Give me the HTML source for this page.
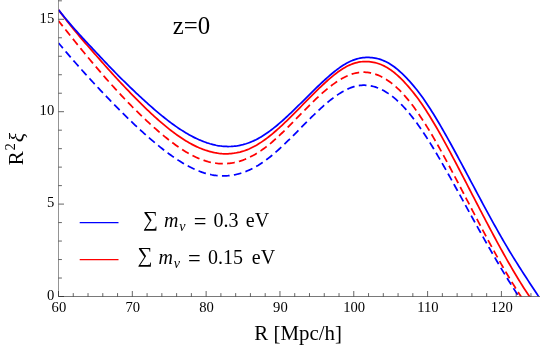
<!DOCTYPE html>
<html><head><meta charset="utf-8"><title>plot</title>
<style>
html,body{margin:0;padding:0;background:#fff;}
body{width:540px;height:351px;overflow:hidden;font-family:"Liberation Serif",serif;}
svg{display:block;will-change:transform;}
text{font-family:"Liberation Serif",serif;fill:#000;}
.it{font-style:italic;}
</style></head><body>
<svg width="540" height="351" viewBox="0 0 540 351">
<rect width="540" height="351" fill="#fff"/>

<defs><clipPath id="c"><rect x="58.5" y="0" width="481.5" height="296.5"/></clipPath></defs>
<g clip-path="url(#c)" fill="none" stroke-width="1.75" stroke-linejoin="round">
<path d="M58.50,42.97 L60.00,44.76 L61.50,46.55 L63.00,48.33 L64.50,50.11 L66.00,51.87 L67.50,53.63 L69.00,55.37 L70.50,57.11 L72.00,58.84 L73.50,60.56 L75.00,62.28 L76.50,63.99 L78.00,65.69 L79.50,67.38 L81.00,69.06 L82.50,70.74 L84.00,72.41 L85.50,74.07 L87.00,75.72 L88.50,77.37 L90.00,79.01 L91.50,80.64 L93.00,82.27 L94.50,83.89 L96.00,85.50 L97.50,87.11 L99.00,88.71 L100.50,90.30 L102.00,91.89 L103.50,93.47 L105.00,95.04 L106.50,96.61 L108.00,98.18 L109.50,99.73 L111.00,101.28 L112.50,102.83 L114.00,104.36 L115.50,105.89 L117.00,107.42 L118.50,108.93 L120.00,110.44 L121.50,111.94 L123.00,113.43 L124.50,114.92 L126.00,116.39 L127.50,117.86 L129.00,119.32 L130.50,120.76 L132.00,122.20 L133.50,123.63 L135.00,125.05 L136.50,126.46 L138.00,127.85 L139.50,129.24 L141.00,130.61 L142.50,131.97 L144.00,133.33 L145.50,134.66 L147.00,135.99 L148.50,137.30 L150.00,138.61 L151.50,139.89 L153.00,141.17 L154.50,142.43 L156.00,143.68 L157.50,144.91 L159.00,146.13 L160.50,147.33 L162.00,148.52 L163.50,149.69 L165.00,150.85 L166.50,151.98 L168.00,153.10 L169.50,154.21 L171.00,155.29 L172.50,156.35 L174.00,157.39 L175.50,158.41 L177.00,159.41 L178.50,160.38 L180.00,161.33 L181.50,162.26 L183.00,163.16 L184.50,164.04 L186.00,164.89 L187.50,165.72 L189.00,166.52 L190.50,167.28 L192.00,168.03 L193.50,168.74 L195.00,169.42 L196.50,170.07 L198.00,170.69 L199.50,171.28 L201.00,171.83 L202.50,172.36 L204.00,172.85 L205.50,173.30 L207.00,173.72 L208.50,174.10 L210.00,174.45 L211.50,174.76 L213.00,175.03 L214.50,175.27 L216.00,175.47 L217.50,175.63 L219.00,175.75 L220.50,175.84 L222.00,175.89 L223.50,175.90 L225.00,175.87 L226.50,175.81 L228.00,175.71 L229.50,175.56 L231.00,175.38 L232.50,175.16 L234.00,174.91 L235.50,174.61 L237.00,174.27 L238.50,173.90 L240.00,173.48 L241.50,173.03 L243.00,172.54 L244.50,172.00 L246.00,171.43 L247.50,170.81 L249.00,170.16 L250.50,169.46 L252.00,168.73 L253.50,167.96 L255.00,167.15 L256.50,166.30 L258.00,165.42 L259.50,164.49 L261.00,163.52 L262.50,162.52 L264.00,161.48 L265.50,160.40 L267.00,159.28 L268.50,158.14 L270.00,156.96 L271.50,155.75 L273.00,154.50 L274.50,153.23 L276.00,151.93 L277.50,150.60 L279.00,149.25 L280.50,147.87 L282.00,146.48 L283.50,145.07 L285.00,143.64 L286.50,142.19 L288.00,140.73 L289.50,139.26 L291.00,137.78 L292.50,136.29 L294.00,134.79 L295.50,133.29 L297.00,131.78 L298.50,130.26 L300.00,128.75 L301.50,127.23 L303.00,125.71 L304.50,124.20 L306.00,122.69 L307.50,121.19 L309.00,119.69 L310.50,118.20 L312.00,116.72 L313.50,115.25 L315.00,113.80 L316.50,112.36 L318.00,110.94 L319.50,109.54 L321.00,108.16 L322.50,106.80 L324.00,105.46 L325.50,104.16 L327.00,102.88 L328.50,101.63 L330.00,100.41 L331.50,99.23 L333.00,98.08 L334.50,96.96 L336.00,95.89 L337.50,94.86 L339.00,93.87 L340.50,92.92 L342.00,92.02 L343.50,91.17 L345.00,90.37 L346.50,89.61 L348.00,88.91 L349.50,88.27 L351.00,87.68 L352.50,87.15 L354.00,86.69 L355.50,86.28 L357.00,85.94 L358.50,85.66 L360.00,85.45 L361.50,85.31 L363.00,85.23 L364.50,85.22 L366.00,85.28 L367.50,85.40 L369.00,85.59 L370.50,85.83 L372.00,86.14 L373.50,86.52 L375.00,86.95 L376.50,87.45 L378.00,88.00 L379.50,88.62 L381.00,89.30 L382.50,90.04 L384.00,90.85 L385.50,91.71 L387.00,92.63 L388.50,93.62 L390.00,94.66 L391.50,95.77 L393.00,96.93 L394.50,98.15 L396.00,99.44 L397.50,100.78 L399.00,102.19 L400.50,103.65 L402.00,105.17 L403.50,106.75 L405.00,108.38 L406.50,110.06 L408.00,111.81 L409.50,113.60 L411.00,115.45 L412.50,117.35 L414.00,119.31 L415.50,121.31 L417.00,123.35 L418.50,125.45 L420.00,127.58 L421.50,129.76 L423.00,131.98 L424.50,134.24 L426.00,136.54 L427.50,138.88 L429.00,141.24 L430.50,143.64 L432.00,146.08 L433.50,148.54 L435.00,151.03 L436.50,153.55 L438.00,156.09 L439.50,158.66 L441.00,161.24 L442.50,163.85 L444.00,166.48 L445.50,169.13 L447.00,171.79 L448.50,174.46 L450.00,177.15 L451.50,179.85 L453.00,182.55 L454.50,185.27 L456.00,187.99 L457.50,190.72 L459.00,193.45 L460.50,196.18 L462.00,198.92 L463.50,201.65 L465.00,204.38 L466.50,207.12 L468.00,209.85 L469.50,212.58 L471.00,215.30 L472.50,218.02 L474.00,220.74 L475.50,223.45 L477.00,226.16 L478.50,228.86 L480.00,231.55 L481.50,234.24 L483.00,236.92 L484.50,239.58 L486.00,242.24 L487.50,244.89 L489.00,247.52 L490.50,250.14 L492.00,252.75 L493.50,255.35 L495.00,257.93 L496.50,260.50 L498.00,263.05 L499.50,265.59 L501.00,268.11 L502.50,270.61 L504.00,273.09 L505.50,275.55 L507.00,277.99 L508.50,280.42 L510.00,282.82 L511.50,285.20 L513.00,287.55 L514.50,289.89 L516.00,292.19 L517.50,294.48 L519.00,296.74 L520.50,298.97 L522.00,301.18 L523.50,303.35 L525.00,305.50 L526.50,307.62 L528.00,309.71 L529.50,311.77 L531.00,313.80 L532.50,315.80 L534.00,317.77 L535.50,319.70 L537.00,321.60 L538.50,323.46 L540.00,325.29" stroke="#0000ff" stroke-dasharray="7.7 4.3" stroke-dashoffset="0.9"/>
<path d="M58.50,20.80 L60.00,22.70 L61.50,24.59 L63.00,26.49 L64.50,28.38 L66.00,30.26 L67.50,32.15 L69.00,34.03 L70.50,35.90 L72.00,37.77 L73.50,39.64 L75.00,41.50 L76.50,43.35 L78.00,45.20 L79.50,47.05 L81.00,48.89 L82.50,50.72 L84.00,52.55 L85.50,54.37 L87.00,56.18 L88.50,57.99 L90.00,59.79 L91.50,61.58 L93.00,63.36 L94.50,65.14 L96.00,66.91 L97.50,68.67 L99.00,70.43 L100.50,72.17 L102.00,73.91 L103.50,75.63 L105.00,77.35 L106.50,79.06 L108.00,80.75 L109.50,82.44 L111.00,84.12 L112.50,85.79 L114.00,87.45 L115.50,89.09 L117.00,90.73 L118.50,92.36 L120.00,93.97 L121.50,95.58 L123.00,97.17 L124.50,98.75 L126.00,100.32 L127.50,101.88 L129.00,103.43 L130.50,104.97 L132.00,106.49 L133.50,108.00 L135.00,109.50 L136.50,110.99 L138.00,112.47 L139.50,113.93 L141.00,115.39 L142.50,116.83 L144.00,118.25 L145.50,119.67 L147.00,121.07 L148.50,122.46 L150.00,123.83 L151.50,125.19 L153.00,126.54 L154.50,127.88 L156.00,129.20 L157.50,130.50 L159.00,131.80 L160.50,133.08 L162.00,134.34 L163.50,135.59 L165.00,136.82 L166.50,138.04 L168.00,139.23 L169.50,140.41 L171.00,141.57 L172.50,142.71 L174.00,143.82 L175.50,144.92 L177.00,145.99 L178.50,147.04 L180.00,148.06 L181.50,149.06 L183.00,150.03 L184.50,150.97 L186.00,151.89 L187.50,152.78 L189.00,153.64 L190.50,154.46 L192.00,155.26 L193.50,156.03 L195.00,156.76 L196.50,157.46 L198.00,158.13 L199.50,158.76 L201.00,159.36 L202.50,159.92 L204.00,160.44 L205.50,160.93 L207.00,161.37 L208.50,161.78 L210.00,162.15 L211.50,162.48 L213.00,162.77 L214.50,163.01 L216.00,163.22 L217.50,163.39 L219.00,163.52 L220.50,163.61 L222.00,163.65 L223.50,163.66 L225.00,163.63 L226.50,163.56 L228.00,163.44 L229.50,163.29 L231.00,163.09 L232.50,162.86 L234.00,162.58 L235.50,162.26 L237.00,161.90 L238.50,161.50 L240.00,161.06 L241.50,160.58 L243.00,160.06 L244.50,159.50 L246.00,158.89 L247.50,158.25 L249.00,157.56 L250.50,156.83 L252.00,156.06 L253.50,155.26 L255.00,154.41 L256.50,153.52 L258.00,152.60 L259.50,151.63 L261.00,150.63 L262.50,149.58 L264.00,148.50 L265.50,147.38 L267.00,146.23 L268.50,145.04 L270.00,143.81 L271.50,142.56 L273.00,141.27 L274.50,139.96 L276.00,138.62 L277.50,137.24 L279.00,135.85 L280.50,134.44 L282.00,133.00 L283.50,131.55 L285.00,130.09 L286.50,128.60 L288.00,127.11 L289.50,125.61 L291.00,124.09 L292.50,122.57 L294.00,121.04 L295.50,119.51 L297.00,117.97 L298.50,116.44 L300.00,114.90 L301.50,113.36 L303.00,111.83 L304.50,110.31 L306.00,108.79 L307.50,107.27 L309.00,105.77 L310.50,104.28 L312.00,102.80 L313.50,101.34 L315.00,99.89 L316.50,98.46 L318.00,97.05 L319.50,95.67 L321.00,94.30 L322.50,92.96 L324.00,91.65 L325.50,90.36 L327.00,89.11 L328.50,87.89 L330.00,86.70 L331.50,85.54 L333.00,84.42 L334.50,83.34 L336.00,82.30 L337.50,81.30 L339.00,80.34 L340.50,79.43 L342.00,78.56 L343.50,77.74 L345.00,76.97 L346.50,76.25 L348.00,75.59 L349.50,74.98 L351.00,74.42 L352.50,73.92 L354.00,73.49 L355.50,73.11 L357.00,72.80 L358.50,72.55 L360.00,72.36 L361.50,72.25 L363.00,72.19 L364.50,72.21 L366.00,72.29 L367.50,72.43 L369.00,72.63 L370.50,72.90 L372.00,73.23 L373.50,73.62 L375.00,74.08 L376.50,74.59 L378.00,75.17 L379.50,75.80 L381.00,76.50 L382.50,77.26 L384.00,78.09 L385.50,78.97 L387.00,79.92 L388.50,80.93 L390.00,82.00 L391.50,83.13 L393.00,84.32 L394.50,85.58 L396.00,86.90 L397.50,88.28 L399.00,89.72 L400.50,91.22 L402.00,92.79 L403.50,94.41 L405.00,96.09 L406.50,97.82 L408.00,99.62 L409.50,101.47 L411.00,103.37 L412.50,105.33 L414.00,107.35 L415.50,109.41 L417.00,111.53 L418.50,113.69 L420.00,115.90 L421.50,118.16 L423.00,120.45 L424.50,122.79 L426.00,125.17 L427.50,127.59 L429.00,130.05 L430.50,132.54 L432.00,135.07 L433.50,137.63 L435.00,140.22 L436.50,142.84 L438.00,145.48 L439.50,148.16 L441.00,150.86 L442.50,153.58 L444.00,156.32 L445.50,159.08 L447.00,161.87 L448.50,164.67 L450.00,167.48 L451.50,170.31 L453.00,173.15 L454.50,176.00 L456.00,178.86 L457.50,181.73 L459.00,184.61 L460.50,187.48 L462.00,190.37 L463.50,193.25 L465.00,196.14 L466.50,199.03 L468.00,201.92 L469.50,204.81 L471.00,207.69 L472.50,210.58 L474.00,213.46 L475.50,216.33 L477.00,219.20 L478.50,222.07 L480.00,224.92 L481.50,227.77 L483.00,230.60 L484.50,233.43 L486.00,236.25 L487.50,239.05 L489.00,241.84 L490.50,244.62 L492.00,247.38 L493.50,250.12 L495.00,252.85 L496.50,255.56 L498.00,258.25 L499.50,260.92 L501.00,263.57 L502.50,266.20 L504.00,268.80 L505.50,271.39 L507.00,273.94 L508.50,276.47 L510.00,278.98 L511.50,281.46 L513.00,283.91 L514.50,286.33 L516.00,288.72 L517.50,291.08 L519.00,293.40 L520.50,295.70 L522.00,297.96 L523.50,300.18 L525.00,302.37 L526.50,304.52 L528.00,306.63 L529.50,308.71 L531.00,310.74 L532.50,312.74 L534.00,314.69 L535.50,316.60 L537.00,318.47 L538.50,320.29 L540.00,322.06" stroke="#ff0000" stroke-dasharray="7.7 4.3" stroke-dashoffset="0.9"/>
<path d="M58.50,9.85 L60.00,11.87 L61.50,13.86 L63.00,15.83 L64.50,17.79 L66.00,19.72 L67.50,21.63 L69.00,23.53 L70.50,25.40 L72.00,27.26 L73.50,29.10 L75.00,30.93 L76.50,32.74 L78.00,34.54 L79.50,36.32 L81.00,38.08 L82.50,39.84 L84.00,41.58 L85.50,43.31 L87.00,45.03 L88.50,46.74 L90.00,48.45 L91.50,50.16 L93.00,51.87 L94.50,53.58 L96.00,55.28 L97.50,56.99 L99.00,58.69 L100.50,60.39 L102.00,62.09 L103.50,63.79 L105.00,65.48 L106.50,67.16 L108.00,68.84 L109.50,70.52 L111.00,72.19 L112.50,73.85 L114.00,75.50 L115.50,77.14 L117.00,78.76 L118.50,80.37 L120.00,81.98 L121.50,83.58 L123.00,85.18 L124.50,86.77 L126.00,88.35 L127.50,89.92 L129.00,91.48 L130.50,93.04 L132.00,94.59 L133.50,96.13 L135.00,97.66 L136.50,99.18 L138.00,100.69 L139.50,102.19 L141.00,103.68 L142.50,105.16 L144.00,106.62 L145.50,108.08 L147.00,109.53 L148.50,110.96 L150.00,112.38 L151.50,113.78 L153.00,115.17 L154.50,116.54 L156.00,117.90 L157.50,119.25 L159.00,120.57 L160.50,121.88 L162.00,123.17 L163.50,124.45 L165.00,125.70 L166.50,126.94 L168.00,128.15 L169.50,129.35 L171.00,130.52 L172.50,131.67 L174.00,132.80 L175.50,133.90 L177.00,134.99 L178.50,136.04 L180.00,137.08 L181.50,138.08 L183.00,139.06 L184.50,140.02 L186.00,140.94 L187.50,141.84 L189.00,142.71 L190.50,143.55 L192.00,144.36 L193.50,145.14 L195.00,145.89 L196.50,146.61 L198.00,147.29 L199.50,147.94 L201.00,148.56 L202.50,149.15 L204.00,149.70 L205.50,150.21 L207.00,150.69 L208.50,151.15 L210.00,151.57 L211.50,151.96 L213.00,152.31 L214.50,152.63 L216.00,152.91 L217.50,153.16 L219.00,153.37 L220.50,153.54 L222.00,153.67 L223.50,153.76 L225.00,153.80 L226.50,153.81 L228.00,153.77 L229.50,153.69 L231.00,153.58 L232.50,153.42 L234.00,153.23 L235.50,153.00 L237.00,152.72 L238.50,152.40 L240.00,152.05 L241.50,151.64 L243.00,151.20 L244.50,150.71 L246.00,150.17 L247.50,149.59 L249.00,148.96 L250.50,148.28 L252.00,147.56 L253.50,146.80 L255.00,146.00 L256.50,145.16 L258.00,144.27 L259.50,143.34 L261.00,142.37 L262.50,141.36 L264.00,140.32 L265.50,139.23 L267.00,138.11 L268.50,136.96 L270.00,135.77 L271.50,134.56 L273.00,133.31 L274.50,132.03 L276.00,130.73 L277.50,129.40 L279.00,128.05 L280.50,126.68 L282.00,125.29 L283.50,123.88 L285.00,122.45 L286.50,121.01 L288.00,119.55 L289.50,118.08 L291.00,116.60 L292.50,115.10 L294.00,113.60 L295.50,112.09 L297.00,110.57 L298.50,109.05 L300.00,107.52 L301.50,105.99 L303.00,104.47 L304.50,102.94 L306.00,101.41 L307.50,99.88 L309.00,98.36 L310.50,96.85 L312.00,95.34 L313.50,93.84 L315.00,92.36 L316.50,90.88 L318.00,89.42 L319.50,87.98 L321.00,86.55 L322.50,85.14 L324.00,83.75 L325.50,82.38 L327.00,81.02 L328.50,79.69 L330.00,78.38 L331.50,77.10 L333.00,75.85 L334.50,74.64 L336.00,73.47 L337.50,72.33 L339.00,71.25 L340.50,70.21 L342.00,69.22 L343.50,68.28 L345.00,67.40 L346.50,66.58 L348.00,65.82 L349.50,65.12 L351.00,64.48 L352.50,63.90 L354.00,63.38 L355.50,62.93 L357.00,62.54 L358.50,62.21 L360.00,61.95 L361.50,61.75 L363.00,61.62 L364.50,61.54 L366.00,61.53 L367.50,61.57 L369.00,61.68 L370.50,61.83 L372.00,62.04 L373.50,62.31 L375.00,62.64 L376.50,63.02 L378.00,63.47 L379.50,63.98 L381.00,64.55 L382.50,65.19 L384.00,65.89 L385.50,66.67 L387.00,67.51 L388.50,68.42 L390.00,69.41 L391.50,70.47 L393.00,71.60 L394.50,72.79 L396.00,74.05 L397.50,75.37 L399.00,76.75 L400.50,78.19 L402.00,79.68 L403.50,81.23 L405.00,82.84 L406.50,84.48 L408.00,86.18 L409.50,87.91 L411.00,89.70 L412.50,91.53 L414.00,93.41 L415.50,95.34 L417.00,97.32 L418.50,99.35 L420.00,101.43 L421.50,103.57 L423.00,105.76 L424.50,108.01 L426.00,110.32 L427.50,112.66 L429.00,115.04 L430.50,117.47 L432.00,119.93 L433.50,122.43 L435.00,124.96 L436.50,127.53 L438.00,130.13 L439.50,132.76 L441.00,135.43 L442.50,138.12 L444.00,140.84 L445.50,143.57 L447.00,146.33 L448.50,149.11 L450.00,151.91 L451.50,154.72 L453.00,157.54 L454.50,160.39 L456.00,163.24 L457.50,166.10 L459.00,168.97 L460.50,171.85 L462.00,174.74 L463.50,177.63 L465.00,180.52 L466.50,183.42 L468.00,186.32 L469.50,189.23 L471.00,192.13 L472.50,195.04 L474.00,197.95 L475.50,200.85 L477.00,203.75 L478.50,206.65 L480.00,209.54 L481.50,212.43 L483.00,215.31 L484.50,218.18 L486.00,221.05 L487.50,223.90 L489.00,226.75 L490.50,229.59 L492.00,232.41 L493.50,235.22 L495.00,238.02 L496.50,240.81 L498.00,243.58 L499.50,246.33 L501.00,249.06 L502.50,251.78 L504.00,254.48 L505.50,257.16 L507.00,259.81 L508.50,262.45 L510.00,265.06 L511.50,267.65 L513.00,270.22 L514.50,272.76 L516.00,275.27 L517.50,277.76 L519.00,280.21 L520.50,282.64 L522.00,285.04 L523.50,287.41 L525.00,289.75 L526.50,292.05 L528.00,294.32 L529.50,296.56 L531.00,298.76 L532.50,300.92 L534.00,303.05 L535.50,305.14 L537.00,307.19 L538.50,309.20 L540.00,311.16" stroke="#ff0000"/>
<path d="M58.50,9.78 L60.00,11.66 L61.50,13.53 L63.00,15.37 L64.50,17.20 L66.00,19.01 L67.50,20.80 L69.00,22.57 L70.50,24.32 L72.00,26.06 L73.50,27.78 L75.00,29.49 L76.50,31.18 L78.00,32.86 L79.50,34.53 L81.00,36.18 L82.50,37.82 L84.00,39.45 L85.50,41.07 L87.00,42.68 L88.50,44.28 L90.00,45.87 L91.50,47.47 L93.00,49.07 L94.50,50.67 L96.00,52.27 L97.50,53.87 L99.00,55.47 L100.50,57.06 L102.00,58.65 L103.50,60.24 L105.00,61.82 L106.50,63.40 L108.00,64.98 L109.50,66.55 L111.00,68.11 L112.50,69.66 L114.00,71.21 L115.50,72.74 L117.00,74.26 L118.50,75.77 L120.00,77.27 L121.50,78.76 L123.00,80.25 L124.50,81.73 L126.00,83.20 L127.50,84.66 L129.00,86.12 L130.50,87.56 L132.00,89.00 L133.50,90.43 L135.00,91.86 L136.50,93.27 L138.00,94.68 L139.50,96.08 L141.00,97.47 L142.50,98.85 L144.00,100.23 L145.50,101.59 L147.00,102.95 L148.50,104.29 L150.00,105.63 L151.50,106.95 L153.00,108.26 L154.50,109.56 L156.00,110.84 L157.50,112.11 L159.00,113.37 L160.50,114.61 L162.00,115.84 L163.50,117.05 L165.00,118.24 L166.50,119.42 L168.00,120.58 L169.50,121.72 L171.00,122.84 L172.50,123.95 L174.00,125.03 L175.50,126.10 L177.00,127.14 L178.50,128.17 L180.00,129.17 L181.50,130.14 L183.00,131.10 L184.50,132.03 L186.00,132.94 L187.50,133.82 L189.00,134.68 L190.50,135.51 L192.00,136.32 L193.50,137.10 L195.00,137.85 L196.50,138.57 L198.00,139.26 L199.50,139.93 L201.00,140.56 L202.50,141.17 L204.00,141.74 L205.50,142.28 L207.00,142.80 L208.50,143.28 L210.00,143.74 L211.50,144.16 L213.00,144.55 L214.50,144.91 L216.00,145.24 L217.50,145.53 L219.00,145.78 L220.50,146.00 L222.00,146.18 L223.50,146.32 L225.00,146.43 L226.50,146.49 L228.00,146.52 L229.50,146.50 L231.00,146.45 L232.50,146.35 L234.00,146.22 L235.50,146.05 L237.00,145.84 L238.50,145.59 L240.00,145.29 L241.50,144.96 L243.00,144.59 L244.50,144.18 L246.00,143.73 L247.50,143.24 L249.00,142.70 L250.50,142.13 L252.00,141.51 L253.50,140.86 L255.00,140.16 L256.50,139.41 L258.00,138.63 L259.50,137.80 L261.00,136.93 L262.50,136.02 L264.00,135.07 L265.50,134.08 L267.00,133.06 L268.50,132.00 L270.00,130.90 L271.50,129.77 L273.00,128.61 L274.50,127.42 L276.00,126.20 L277.50,124.96 L279.00,123.68 L280.50,122.39 L282.00,121.07 L283.50,119.73 L285.00,118.37 L286.50,116.99 L288.00,115.60 L289.50,114.19 L291.00,112.77 L292.50,111.33 L294.00,109.88 L295.50,108.42 L297.00,106.96 L298.50,105.48 L300.00,104.00 L301.50,102.52 L303.00,101.03 L304.50,99.54 L306.00,98.04 L307.50,96.55 L309.00,95.06 L310.50,93.57 L312.00,92.09 L313.50,90.62 L315.00,89.15 L316.50,87.69 L318.00,86.25 L319.50,84.81 L321.00,83.40 L322.50,82.00 L324.00,80.61 L325.50,79.24 L327.00,77.89 L328.50,76.56 L330.00,75.25 L331.50,73.98 L333.00,72.73 L334.50,71.51 L336.00,70.33 L337.50,69.19 L339.00,68.09 L340.50,67.03 L342.00,66.02 L343.50,65.06 L345.00,64.16 L346.50,63.30 L348.00,62.50 L349.50,61.76 L351.00,61.07 L352.50,60.43 L354.00,59.86 L355.50,59.34 L357.00,58.89 L358.50,58.50 L360.00,58.16 L361.50,57.90 L363.00,57.69 L364.50,57.54 L366.00,57.45 L367.50,57.42 L369.00,57.45 L370.50,57.53 L372.00,57.67 L373.50,57.86 L375.00,58.10 L376.50,58.41 L378.00,58.77 L379.50,59.20 L381.00,59.68 L382.50,60.23 L384.00,60.85 L385.50,61.53 L387.00,62.28 L388.50,63.10 L390.00,63.99 L391.50,64.95 L393.00,65.97 L394.50,67.06 L396.00,68.22 L397.50,69.44 L399.00,70.72 L400.50,72.05 L402.00,73.45 L403.50,74.89 L405.00,76.39 L406.50,77.94 L408.00,79.53 L409.50,81.16 L411.00,82.84 L412.50,84.57 L414.00,86.35 L415.50,88.18 L417.00,90.05 L418.50,91.99 L420.00,93.97 L421.50,96.01 L423.00,98.10 L424.50,100.25 L426.00,102.45 L427.50,104.70 L429.00,106.99 L430.50,109.31 L432.00,111.68 L433.50,114.08 L435.00,116.51 L436.50,118.99 L438.00,121.49 L439.50,124.03 L441.00,126.60 L442.50,129.20 L444.00,131.82 L445.50,134.47 L447.00,137.14 L448.50,139.82 L450.00,142.53 L451.50,145.25 L453.00,147.99 L454.50,150.74 L456.00,153.51 L457.50,156.28 L459.00,159.07 L460.50,161.86 L462.00,164.66 L463.50,167.47 L465.00,170.28 L466.50,173.09 L468.00,175.91 L469.50,178.73 L471.00,181.55 L472.50,184.37 L474.00,187.20 L475.50,190.01 L477.00,192.83 L478.50,195.64 L480.00,198.45 L481.50,201.25 L483.00,204.04 L484.50,206.82 L486.00,209.60 L487.50,212.36 L489.00,215.12 L490.50,217.86 L492.00,220.59 L493.50,223.30 L495.00,226.00 L496.50,228.68 L498.00,231.35 L499.50,234.00 L501.00,236.62 L502.50,239.23 L504.00,241.82 L505.50,244.38 L507.00,246.92 L508.50,249.44 L510.00,251.93 L511.50,254.39 L513.00,256.84 L514.50,259.26 L516.00,261.66 L517.50,264.05 L519.00,266.41 L520.50,268.77 L522.00,271.11 L523.50,273.43 L525.00,275.75 L526.50,278.06 L528.00,280.36 L529.50,282.65 L531.00,284.94 L532.50,287.23 L534.00,289.51 L535.50,291.79 L537.00,294.08 L538.50,296.36 L540.00,298.65" stroke="#0000ff"/>
</g>
<path d="M58.5,0 V296.5" stroke="#5e5e5e" stroke-width="0.67" fill="none"/>
<path d="M58.5,296.5 H540" stroke="#363636" stroke-width="0.67" fill="none"/>
<path d="M58.50,296.5 v-5.5 M73.26,296.5 v-3.4 M88.03,296.5 v-3.4 M102.79,296.5 v-3.4 M117.56,296.5 v-3.4 M132.32,296.5 v-5.5 M147.08,296.5 v-3.4 M161.85,296.5 v-3.4 M176.61,296.5 v-3.4 M191.38,296.5 v-3.4 M206.14,296.5 v-5.5 M220.90,296.5 v-3.4 M235.67,296.5 v-3.4 M250.43,296.5 v-3.4 M265.20,296.5 v-3.4 M279.96,296.5 v-5.5 M294.72,296.5 v-3.4 M309.49,296.5 v-3.4 M324.25,296.5 v-3.4 M339.02,296.5 v-3.4 M353.78,296.5 v-5.5 M368.54,296.5 v-3.4 M383.31,296.5 v-3.4 M398.07,296.5 v-3.4 M412.84,296.5 v-3.4 M427.60,296.5 v-5.5 M442.36,296.5 v-3.4 M457.13,296.5 v-3.4 M471.89,296.5 v-3.4 M486.66,296.5 v-3.4 M501.42,296.5 v-5.5 M516.18,296.5 v-3.4 M530.95,296.5 v-3.4 M58.5,296.50 h5.5 M58.5,278.02 h3.4 M58.5,259.54 h3.4 M58.5,241.06 h3.4 M58.5,222.58 h3.4 M58.5,204.10 h5.5 M58.5,185.62 h3.4 M58.5,167.14 h3.4 M58.5,148.66 h3.4 M58.5,130.18 h3.4 M58.5,111.70 h5.5 M58.5,93.22 h3.4 M58.5,74.74 h3.4 M58.5,56.26 h3.4 M58.5,37.78 h3.4 M58.5,19.30 h5.5 M58.5,0.82 h3.4" stroke="#1a1a1a" stroke-width="0.67" fill="none"/>
<text x="58.9" y="311.8" font-size="14.6" text-anchor="middle">60</text>
<text x="132.7" y="311.8" font-size="14.6" text-anchor="middle">70</text>
<text x="206.5" y="311.8" font-size="14.6" text-anchor="middle">80</text>
<text x="280.4" y="311.8" font-size="14.6" text-anchor="middle">90</text>
<text x="354.2" y="311.8" font-size="14.6" text-anchor="middle">100</text>
<text x="428.0" y="311.8" font-size="14.6" text-anchor="middle">110</text>
<text x="501.8" y="311.8" font-size="14.6" text-anchor="middle">120</text>
<text x="54.2" y="299.7" font-size="14.6" text-anchor="end">0</text>
<text x="54.2" y="207.3" font-size="14.6" text-anchor="end">5</text>
<text x="54.2" y="114.9" font-size="14.6" text-anchor="end">10</text>
<text x="54.2" y="22.5" font-size="14.6" text-anchor="end">15</text>
<text x="254.3" y="340.1" font-size="20.9">R [Mpc/h]</text>
<g transform="translate(23.3,165.2) rotate(-90)"><text x="0" y="0" font-size="21">R</text><text x="14.6" y="-8.6" font-size="14.5">2</text><text x="22.9" y="0.3" font-size="21.8" class="it">ξ</text></g>
<text x="172.7" y="34.2" font-size="24.8">z=0</text>
<path d="M79.7,222.6 H118.5" stroke="#0000ff" stroke-width="1.4" fill="none"/>
<path d="M79.7,259.6 H118.5" stroke="#ff0000" stroke-width="1.4" fill="none"/>
<text x="143.1" y="225.5" font-size="21">∑</text>
<text x="164" y="227.1" font-size="20" class="it">m</text>
<text x="179.3" y="230.8" font-size="14" class="it">ν</text>
<text x="193.7" y="228.85" font-size="22.5">=</text>
<text x="213.5" y="227.1" font-size="20">0.3</text>
<text x="245.8" y="227.1" font-size="20">eV</text>
<text x="137.5" y="262.4" font-size="21">∑</text>
<text x="158.4" y="264.0" font-size="20" class="it">m</text>
<text x="173.7" y="267.7" font-size="14" class="it">ν</text>
<text x="188.1" y="265.75" font-size="22.5">=</text>
<text x="207.9" y="264.0" font-size="20">0.15</text>
<text x="251.8" y="264.0" font-size="20">eV</text>
</svg></body></html>
